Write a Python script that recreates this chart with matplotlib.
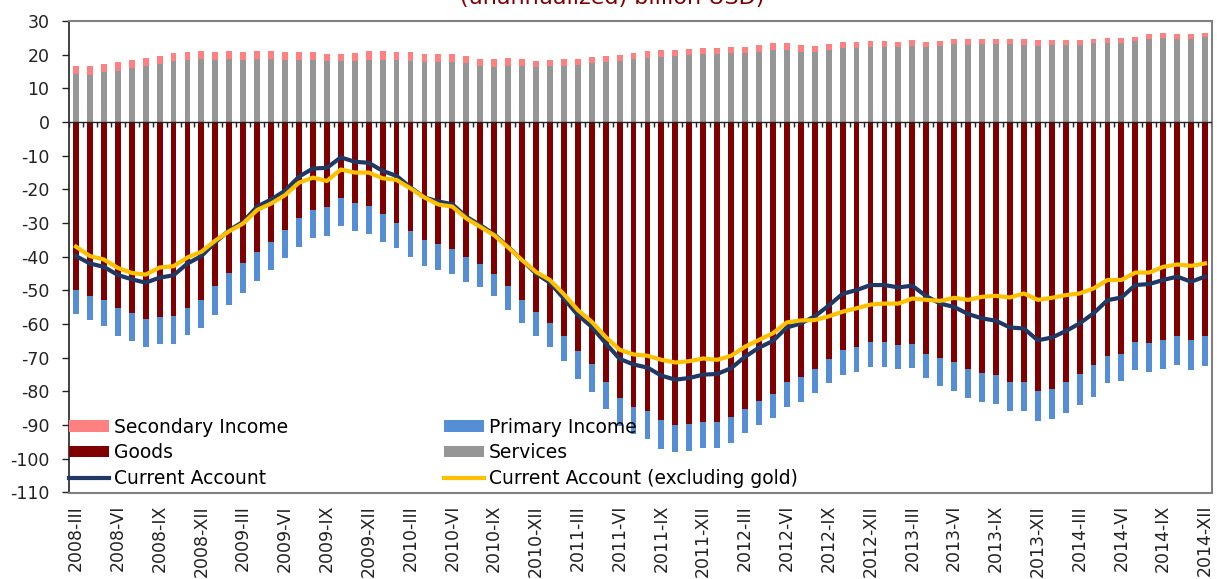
import numpy as np
import matplotlib
matplotlib.use("Agg")
import matplotlib.pyplot as plt

# months 2008-III .. 2014-XII
roman = ["I", "II", "III", "IV", "V", "VI", "VII", "VIII", "IX", "X", "XI", "XII"]
periods = [f"{y}-{roman[m]}" for y in range(2008, 2015) for m in range(12)][2:]

services = [14.3, 14.1, 14.8, 15.2, 15.9, 16.7, 17.3, 18.0, 18.5, 18.7,
            18.5, 18.7, 18.5, 18.7, 18.6, 18.4, 18.4, 18.4, 18.1, 18.1,
            18.1, 18.4, 18.4, 18.4, 18.2, 17.9, 17.9, 17.9, 17.5, 16.7,
            16.4, 16.7, 16.7, 16.4, 16.7, 16.7, 17.0, 17.5, 17.7, 18.1,
            18.8, 19.1, 19.4, 19.6, 20.0, 20.1, 20.3, 20.4, 20.6, 20.9,
            21.5, 21.5, 20.9, 20.9, 21.5, 22.1, 22.1, 22.4, 22.4, 22.4,
            22.7, 22.4, 22.7, 23.2, 23.0, 23.2, 23.3, 23.3, 23.0, 22.7,
            23.0, 23.0, 23.0, 23.5, 23.6, 23.6, 24.1, 24.8, 25.0, 24.8,
            24.8, 25.2]
secondary = [2.3, 2.5, 2.4, 2.6, 2.4, 2.3, 2.4, 2.5, 2.4, 2.3,
             2.3, 2.3, 2.3, 2.3, 2.4, 2.4, 2.3, 2.3, 2.1, 2.2,
             2.4, 2.6, 2.6, 2.3, 2.5, 2.3, 2.2, 2.2, 2.1, 2.0,
             2.2, 2.2, 1.9, 1.7, 1.7, 1.9, 1.8, 1.8, 1.8, 1.8,
             1.8, 1.9, 1.9, 1.7, 1.7, 1.9, 1.7, 1.9, 1.7, 2.0,
             1.9, 1.9, 2.0, 1.8, 1.6, 1.6, 1.8, 1.6, 1.6, 1.5,
             1.6, 1.3, 1.4, 1.5, 1.6, 1.5, 1.5, 1.5, 1.7, 1.6,
             1.4, 1.3, 1.3, 1.3, 1.3, 1.3, 1.1, 1.3, 1.3, 1.3,
             1.2, 1.1]
goods = [-49.9, -51.6, -52.9, -55.2, -56.7, -58.5, -57.9, -57.5, -55.2, -52.9,
         -48.6, -44.9, -42.0, -38.5, -35.5, -32.1, -28.6, -26.0, -25.3, -22.7,
         -23.9, -24.9, -27.2, -30.0, -32.3, -35.0, -36.3, -37.7, -40.2, -42.2,
         -45.0, -48.7, -52.7, -56.5, -59.6, -63.5, -68.0, -71.9, -77.2, -81.8,
         -84.6, -85.7, -88.4, -89.9, -89.6, -89.1, -89.0, -87.5, -85.2, -82.8,
         -80.7, -77.1, -75.6, -73.3, -70.4, -67.7, -66.8, -65.3, -65.3, -66.2,
         -65.9, -68.9, -70.1, -71.3, -73.4, -74.6, -75.1, -77.2, -77.2, -79.8,
         -79.2, -77.2, -74.8, -72.0, -69.5, -68.9, -65.3, -65.7, -64.8, -63.6,
         -64.8, -63.6]
primary = [-7.2, -7.3, -7.7, -8.2, -8.3, -8.4, -8.1, -8.4, -8.1, -8.4,
           -8.7, -9.3, -8.7, -8.7, -8.5, -8.4, -8.4, -8.4, -8.5, -8.2,
           -8.5, -8.2, -8.4, -7.3, -7.9, -7.7, -7.5, -7.3, -7.2, -6.9,
           -6.7, -7.1, -6.9, -7.1, -7.1, -7.4, -8.3, -8.2, -8.1, -8.4,
           -8.1, -8.5, -8.6, -8.1, -8.0, -7.8, -7.8, -7.9, -7.2, -7.1,
           -7.3, -7.4, -7.4, -7.2, -7.0, -7.3, -7.3, -7.3, -7.3, -7.1,
           -7.2, -7.1, -8.3, -8.5, -8.4, -8.4, -8.7, -8.5, -8.6, -9.0,
           -8.9, -9.1, -9.2, -9.5, -8.1, -8.0, -8.2, -8.4, -8.4, -8.4,
           -8.7, -8.7]
current_account = [-39.8, -42.0, -43.0, -45.4, -46.7, -47.7, -46.2, -45.5, -42.0, -39.8,
                   -35.7, -32.1, -29.6, -25.1, -23.0, -20.4, -16.2, -13.8, -13.6, -10.5,
                   -11.8, -12.1, -14.5, -16.0, -19.4, -22.4, -23.6, -24.4, -28.1, -30.6,
                   -33.3, -37.0, -41.0, -45.0, -47.7, -52.4, -57.3, -60.8, -65.7, -70.3,
                   -72.0, -72.9, -75.3, -76.5, -76.0, -75.0, -74.8, -73.1, -69.7, -67.0,
                   -65.0, -61.0, -59.8, -57.7, -54.5, -51.0, -49.9, -48.4, -48.4, -49.1,
                   -48.6, -51.7, -53.9, -54.9, -57.0, -58.3, -59.0, -61.0, -61.3, -64.8,
                   -64.0, -62.1, -59.8, -56.8, -52.9, -52.1, -48.4, -48.1, -46.9, -45.9,
                   -47.4, -45.9]
ca_ex_gold = [-37.0, -39.8, -40.8, -43.3, -44.8, -45.3, -43.2, -42.8, -40.2, -38.5,
              -35.2, -32.4, -30.1, -26.1, -24.2, -21.7, -18.0, -16.5, -17.5, -14.1,
              -15.0, -15.0, -16.7, -17.2, -19.7, -22.4, -24.5, -25.1, -28.6, -31.1,
              -33.6, -37.2, -41.0, -44.5, -46.9, -51.1, -55.8, -59.3, -63.8, -67.6,
              -69.0, -69.4, -70.6, -71.4, -71.0, -70.2, -70.6, -69.4, -66.7, -64.7,
              -62.7, -59.5, -58.9, -58.8, -57.7, -56.3, -55.3, -54.2, -53.9, -53.9,
              -52.4, -52.8, -53.1, -52.2, -52.8, -51.9, -51.6, -52.1, -50.9, -52.8,
              -52.2, -51.4, -50.9, -49.4, -46.9, -46.9, -44.7, -44.7, -43.0, -42.3,
              -42.7, -42.0]

plt.rcParams['font.family'] = ['DejaVu Sans']
plt.rcParams['axes.unicode_minus'] = False

x = np.arange(len(periods))
w = 0.42

fig = plt.figure(figsize=(12.17, 5.79), dpi=100)
ax = fig.add_axes([69 / 1217, 1 - 492.5 / 579, (1212 - 69) / 1217, (492.5 - 21) / 579])

ax.bar(x, services, w, color='#969696', label='Services', zorder=2)
ax.bar(x, secondary, w, bottom=services, color='#FF8080', label='Secondary Income', zorder=2)
ax.bar(x, goods, w, color='#7F0000', label='Goods', zorder=2)
ax.bar(x, primary, w, bottom=goods, color='#558ED5', label='Primary Income', zorder=2)
ax.plot(x, current_account, color='#1F3864', lw=3, label='Current Account', zorder=3)
ax.plot(x, ca_ex_gold, color='#FFC000', lw=3, label='Current Account (excluding gold)', zorder=4)

ax.set_xlim(-0.5, len(x) - 0.5)
ax.set_ylim(-110, 30)
ax.set_yticks(np.arange(-110, 31, 10))
ax.tick_params(axis='y', direction='out', length=5, width=1, pad=9, labelsize=12.5, colors='#222222')
ax.set_xticks(x[::3])
ax.set_xticklabels(periods[::3], rotation=90)
ax.tick_params(axis='x', length=0, pad=9, labelsize=12.5, colors='#222222')

# zero line with category ticks
ax.axhline(0, color='#222222', lw=1, zorder=3)
ax.vlines(np.arange(len(x) + 1) - 0.5, -1.5, 0, color='#222222', lw=1, zorder=3)

for s in ['top', 'right', 'bottom']:
    ax.spines[s].set_color('#808080')
    ax.spines[s].set_linewidth(1.5)
ax.spines['left'].set_color('#222222')
ax.spines['left'].set_linewidth(1.2)

h, l = ax.get_legend_handles_labels()
order = ['Secondary Income', 'Goods', 'Current Account',
         'Primary Income', 'Services', 'Current Account (excluding gold)']
hd = dict(zip(l, h))
ax.legend([hd[k] for k in order], order, ncol=2, loc='upper left',
          bbox_to_anchor=(0.0, 0.159), frameon=False, fontsize=13.5,
          borderpad=0, borderaxespad=0, handlelength=2.13, handleheight=0.55,
          handletextpad=0.27, columnspacing=8.3, labelspacing=0.36)

fig.text(0.503, 1 - 4 / 579, '(unannualized) billion USD)', ha='center', va='baseline',
         fontsize=16, color='#7F0000')

fig.savefig('out.png', dpi=100)
